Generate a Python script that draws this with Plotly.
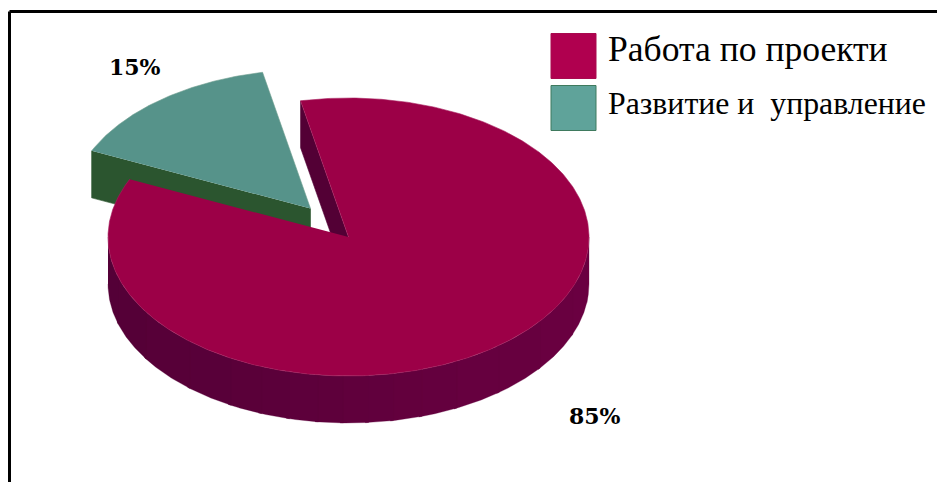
import numpy as np
import plotly.graph_objects as go

categories = ["Работа по проекти", "Развитие и\u00a0\u00a0управление"]
shares = [85, 15]
pct_labels = ["85%", "15%"]

W, H = 937, 482
CX, CY, RX, RY, DEPTH = 348.5, 237, 240.5, 139, 47
EXPLODE = (-38, -28.5)
START = 101.5  # ellipse angle of first slice's first edge, running clockwise

TOP_MAIN, TOP_TEAL = "#9C0047", "#56938A"
WALL_INNER, WALL_TEAL = "#530035", "#2B552F"
WALL_LEFT, WALL_RIGHT = np.array([84, 0, 55]), np.array([108, 0, 66])


def pt(a, dx=0, dy=0):
    r = np.radians(a)
    return CX + dx + RX * np.cos(r), CY + dy - RY * np.sin(r)


def arc(a0, a1, dx=0, dy=0, n=160):
    return pt(np.linspace(a0, a1, n), dx, dy)


def poly(x, y, fill, line=None, lw=0.6):
    return go.Scatter(x=list(x), y=list(y), mode="lines", fill="toself", fillcolor=fill,
                      line=dict(color=line or fill, width=lw), hoverinfo="skip", showlegend=False)


a0 = START
a1 = START - shares[0] / sum(shares) * 360        # end of main slice
a2 = a1 - shares[1] / sum(shares) * 360           # end of teal slice
ex, ey = EXPLODE

fig = go.Figure()

# exploded teal slice: visible front wall then top
xa, ya = arc(a2, a1, ex, ey)
p_edge = pt(a1, ex, ey)
fig.add_trace(poly([p_edge[0], p_edge[0], CX + ex, CX + ex],
                   [p_edge[1], p_edge[1] + DEPTH, CY + ey + DEPTH, CY + ey], WALL_TEAL))
fig.add_trace(poly([CX + ex, *xa], [CY + ey, *ya], TOP_TEAL, "#6E9E8E"))

# main slice: inner cut wall
p_start = pt(a0)
fig.add_trace(poly([p_start[0], p_start[0], CX, CX],
                   [p_start[1], p_start[1] + DEPTH, CY + DEPTH, CY], WALL_INNER))

# main slice: outer wall facets, from the right extreme back to the left so overlaps hide seams
edges = [180, 196, 212, 228, 240, 248, 255, 262, 268, 274, 280, 287, 296, 308, 322, 338, 352, 360]
for i in range(len(edges) - 2, -1, -1):
    t = i / (len(edges) - 2)
    c = (WALL_LEFT + (WALL_RIGHT - WALL_LEFT) * t).astype(int)
    col = f"rgb({c[0]},{c[1]},{c[2]})"
    x0, y0 = arc(edges[i], edges[i + 1] + (0.8 if i < len(edges) - 2 else 0), n=30)
    fig.add_trace(poly([*x0, *x0[::-1]], [*y0, *(y0[::-1] + DEPTH)], col, col, 0.3))

# main slice top
xm, ym = arc(a0, a1, n=600)
fig.add_trace(poly([CX, *xm], [CY, *ym], TOP_MAIN, "#A81E5E"))

# legend swatches
legend_y = [56, 108]
swatch_fill = ["#B0004F", "#5FA39A"]
swatch_line = ["#A80A4E", "#3F7A5E"]
fig.add_trace(go.Scatter(x=[573.5, 573.5], y=legend_y, mode="markers", hoverinfo="skip", showlegend=False,
                         marker=dict(symbol="square", size=45, color=swatch_fill,
                                     line=dict(color=swatch_line, width=1))))

fig.add_annotation(x=606, y=49, text=categories[0], xanchor="left", yanchor="middle", showarrow=False,
                   font=dict(family="Liberation Serif", size=35.6, color="#000"))
fig.add_annotation(x=606, y=103, text=categories[1], xanchor="left", yanchor="middle", showarrow=False,
                   font=dict(family="Liberation Serif", size=31.8, color="#000"))
fig.add_annotation(x=135, y=67, text=f"<b>{pct_labels[1]}</b>", showarrow=False,
                   font=dict(family="DejaVu Serif", size=22, color="#000"))
fig.add_annotation(x=595, y=416, text=f"<b>{pct_labels[0]}</b>", showarrow=False,
                   font=dict(family="DejaVu Serif", size=22, color="#000"))

# outer frame
frame = dict(color="#000", width=3)
fig.add_shape(type="line", x0=9.5, x1=W, y0=11.5, y1=11.5, line=frame)
fig.add_shape(type="line", x0=9.5, x1=9.5, y0=11.5, y1=H, line=frame)

fig.update_layout(width=W, height=H, margin=dict(l=0, r=0, t=0, b=0), autosize=False,
                  paper_bgcolor="#fff", plot_bgcolor="#fff", showlegend=False,
                  xaxis=dict(range=[0, W], visible=False, fixedrange=True),
                  yaxis=dict(range=[H, 0], visible=False, fixedrange=True))
fig.write_html("out.html", config=dict(displayModeBar=False),
               post_script="document.body.style.margin='0';document.body.style.overflow='hidden';")
